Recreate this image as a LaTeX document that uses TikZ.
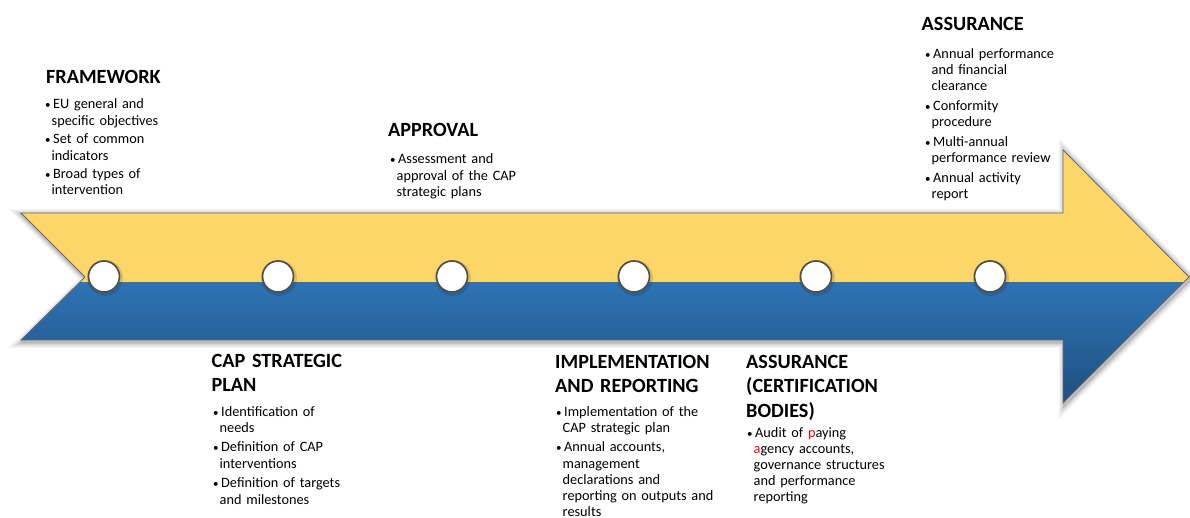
\documentclass[tikz,border=0pt]{standalone}
\usepackage{fontspec}
\setmainfont{Carlito}
\definecolor{ayellow}{HTML}{FDD66A}
\definecolor{abluetop}{HTML}{2E73B5}
\definecolor{abluebot}{HTML}{1F4F7E}
\definecolor{aedge}{HTML}{6B6B6B}
\definecolor{dotedge}{HTML}{505050}
\newcommand\bu{\makebox[8pt][l]{\fontsize{11}{11}\selectfont •}}
\newcommand\ind{\hspace*{6.5pt}}
\begin{document}
\begin{tikzpicture}[x=1pt,y=-1pt,
  heading/.style={anchor=base west, inner sep=0pt, text width=220pt, align=left, font=\fontsize{20.2}{24.5}\selectfont\bfseries},
  bullets/.style={anchor=base west, inner sep=0pt, text width=220pt, align=left, font=\fontsize{14.3}{16.2}\selectfont},
  dot/.style={circle, draw=dotedge, line width=1.7pt, fill=white, minimum size=31pt, inner sep=0pt},
  dotshadow/.style={fill=black, opacity=0.12}]
\useasboundingbox (0,0) rectangle (1190,518);
% arrow shadow
\foreach \w/\o in {12/0.04,9/0.06,6/0.08,3/0.12}{
  \draw[line width=\w pt, draw=black, opacity=\o]
    (22.5,215) -- (1064.5,215) -- (1064.5,152) -- (1190.5,279) -- (1064.5,405) -- (1064.5,342) -- (22.5,342) -- (86.5,279) -- cycle;
}
% arrow body
\begin{scope}
  \clip (21,213) -- (1063,213) -- (1063,150) -- (1189,277) -- (1063,403) -- (1063,340) -- (21,340) -- (85,277) -- cycle;
  \fill[ayellow] (0,140) rectangle (1190,283);
  \shade[top color=abluetop, bottom color=abluebot] (0,283) rectangle (1190,405);
\end{scope}
\draw[aedge, line width=0.8pt]
  (21,213) -- (1063,213) -- (1063,150) -- (1189,277) -- (1063,403) -- (1063,340) -- (21,340) -- (85,277) -- cycle;
% milestones
\foreach \x in {104,278,452,634,816,990}{
  \fill[dotshadow] (\x+1,278) circle (18pt);
}
\node[dot] (c1) at (104,276.5) {};
\node[dot] (c2) at (278,276.5) {};
\node[dot] (c3) at (452,276.5) {};
\node[dot] (c4) at (634,276.5) {};
\node[dot] (c5) at (816,276.5) {};
\node[dot] (c6) at (990,276.5) {};
% texts
\node[heading] (h1) at (46,83.5) {FRAMEWORK};
\node[bullets] (b1) at (45,109) {\bu EU general and\\\ind specific objectives\\[2.5pt]\bu Set of common\\\ind indicators\\[2.5pt]\bu Broad types of\\\ind intervention};
\node[heading] (h2) at (388,137) {APPROVAL};
\node[bullets] (b2) at (390,164) {\bu Assessment and\\\ind approval of the CAP\\\ind strategic plans};
\node[heading] (h3) at (921.5,31) {ASSURANCE};
\node[bullets] (b3) at (925,58.5) {\bu Annual performance\\\ind and financial\\\ind clearance\\[3.5pt]\bu Conformity\\\ind procedure\\[3.5pt]\bu Multi-annual\\\ind performance review\\[3.5pt]\bu Annual activity\\\ind report};
\node[heading] (h4) at (211.5,367) {CAP STRATEGIC\\PLAN};
\node[bullets] (b4) at (213,416) {\bu Identification of\\\ind needs\\[3.5pt]\bu Definition of CAP\\\ind interventions\\[3.5pt]\bu Definition of targets\\\ind and milestones};
\node[heading] (h5) at (555,368) {IMPLEMENTATION\\AND REPORTING};
\node[bullets] (b5) at (556,416) {\bu Implementation of the\\\ind CAP strategic plan\\[3.5pt]\bu Annual accounts,\\\ind management\\\ind declarations and\\\ind reporting on outputs and\\\ind results};
\node[heading] (h6) at (746,368) {ASSURANCE\\(CERTIFICATION\\BODIES)};
\node[bullets] (b6) at (747,437) {\bu Audit of \textcolor{red}{p}aying\\\ind\textcolor{red}{a}gency accounts,\\\ind governance structures\\\ind and performance\\\ind reporting};
\end{tikzpicture}
\end{document}
